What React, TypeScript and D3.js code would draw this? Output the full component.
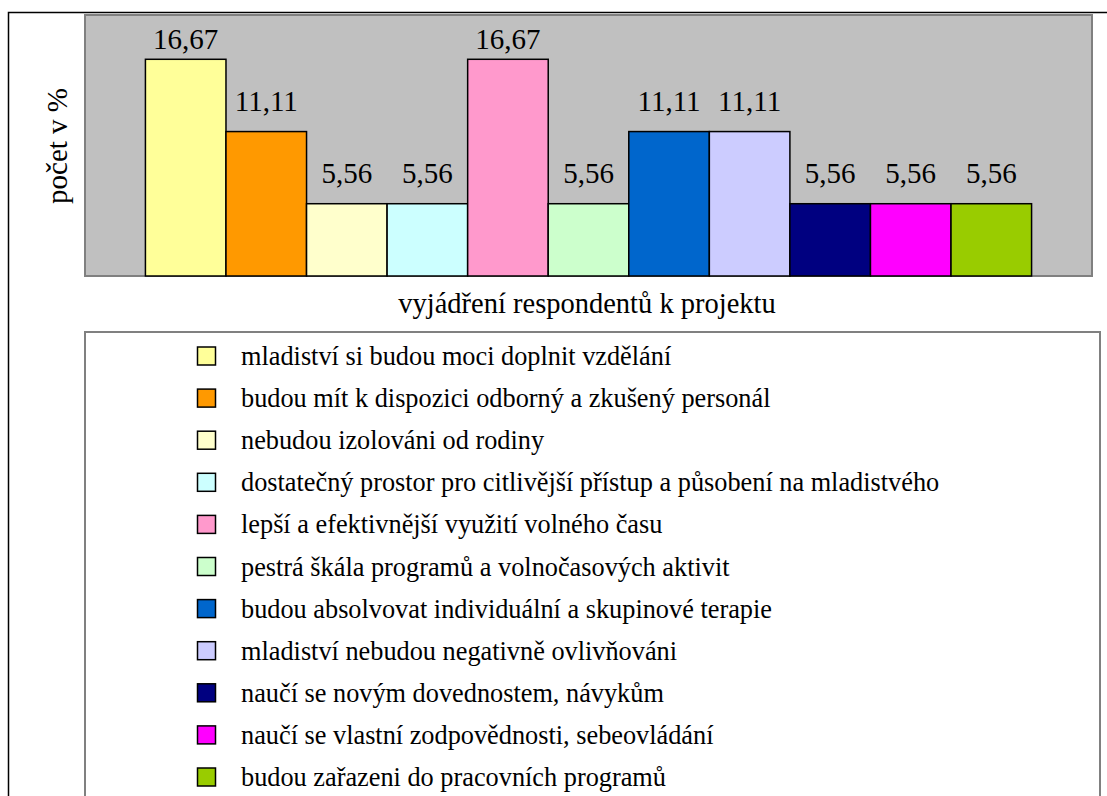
import React from "react";
import * as d3 from "d3";

const categories = [
  "mladiství si budou moci doplnit vzdělání",
  "budou mít k dispozici odborný a zkušený personál",
  "nebudou izolováni od rodiny",
  "dostatečný prostor pro citlivější přístup a působení na mladistvého",
  "lepší a efektivnější využití volného času",
  "pestrá škála programů a volnočasových aktivit",
  "budou absolvovat individuální a skupinové terapie",
  "mladiství nebudou negativně ovlivňováni",
  "naučí se novým dovednostem, návykům",
  "naučí se vlastní zodpovědnosti, sebeovládání",
  "budou zařazeni do pracovních programů",
];
const values = [16.67, 11.11, 5.56, 5.56, 16.67, 5.56, 11.11, 11.11, 5.56, 5.56, 5.56];
const colors = [
  "#FFFF99", "#FF9900", "#FFFFCC", "#CCFFFF", "#FF99CC", "#CCFFCC",
  "#0066CC", "#CCCCFF", "#000080", "#FF00FF", "#99CC00",
];
const yTitle = "počet v %";
const xTitle = "vyjádření respondentů k projektu";

export default function App() {
  const W = 1107, H = 796;
  const plot = { left: 85, right: 1092, top: 16, bottom: 276 };
  const x = d3.scaleBand<number>()
    .domain(values.map((_, i) => i))
    .range([plot.left, plot.right])
    .paddingInner(0)
    .paddingOuter(0.75);
  const y = d3.scaleLinear().domain([0, 20]).range([plot.bottom, plot.top]);
  const fmt = (v: number) => v.toFixed(2).replace(".", ",");

  const legend = { left: 85, top: 332, right: 1100, firstRow: 356, step: 42.1 };
  const T = (props: any) => (
    <text {...props} fontFamily="Times New Roman" style={{ fontFamily: '"Times New Roman"' }} fill="#000" />
  );

  return (
    <svg width={W} height={H} style={{ position: "absolute", left: 0, top: 0, background: "#fff" }}>
      <style>{`text { font-family: "Times New Roman", "Liberation Serif", serif !important; }`}</style>
      <rect x={8.5} y={12.5} width={1200} height={1000} fill="#fff" stroke="#000" strokeWidth={1.5} />
      <rect x={plot.left} y={plot.top - 1} width={plot.right - plot.left} height={plot.bottom - plot.top + 1}
        fill="#C0C0C0" stroke="#808080" strokeWidth={2} />
      {values.map((v, i) => (
        <rect key={i} x={x(i)!} y={y(v)} width={x.bandwidth()} height={plot.bottom - y(v)}
          fill={colors[i]} stroke="#000" strokeWidth={1.5} />
      ))}
      {values.map((v, i) => (
        <T key={"l" + i} transform={`translate(${x(i)! + x.bandwidth() / 2},${Math.max(y(v) - 21, 49)})`}
          textAnchor="middle" fontSize={29}>{fmt(v)}</T>
      ))}
      <T transform={`translate(${67},${146}) rotate(-90)`} textAnchor="middle" fontSize={29}>
        {yTitle}
      </T>
      <T transform="translate(587,313)" textAnchor="middle" fontSize={28.5}>
        {xTitle}
      </T>
      <rect x={legend.left} y={legend.top} width={legend.right - legend.left} height={600}
        fill="#fff" stroke="#808080" strokeWidth={2} />
      {categories.map((c, i) => {
        const cy = legend.firstRow + i * legend.step;
        return (
          <g key={"g" + i}>
            <rect x={197.5} y={cy - 9} width={18} height={18} fill={colors[i]} stroke="#000" strokeWidth={1.5} />
            <T transform={`translate(241,${cy + 9})`} fontSize={26.3}>{c}</T>
          </g>
        );
      })}
    </svg>
  );
}
